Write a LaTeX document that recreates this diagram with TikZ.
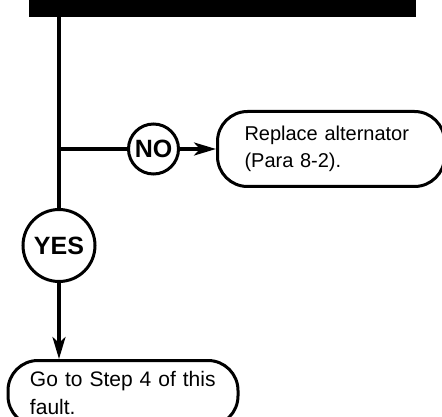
\documentclass[tikz,border=0pt]{standalone}
\usepackage{fontspec}
\setmainfont{Liberation Sans}
\usepackage{tikz}
\usetikzlibrary{arrows.meta, positioning}
\tikzstyle{header} = [rectangle, minimum width=387pt, minimum height=17.3pt, inner sep=0pt, draw=none, fill=black]
\tikzstyle{answer} = [circle, inner sep=0pt, draw=black, line width=3pt, font=\fontsize{25}{30}\selectfont\bfseries]
\tikzstyle{outcome} = [rectangle, rounded corners=30pt, minimum height=75pt, draw=black, line width=3pt, align=left]
\tikzstyle{line} = [line width=3.4pt]
\tikzstyle{arrow} = [line width=3.4pt, -{Stealth[length=22pt, width=13pt, inset=6pt]}]

\begin{document}
\begin{tikzpicture}[x=1pt, y=1pt]
		\useasboundingbox (0,0) rectangle (442,-417);
		\clip (0,0) rectangle (442,-417);

		\node (bar) [header] at (222.5,-8.65) {};
		\coordinate (split) at (59,-149);
		\node (no) [answer, minimum size=50pt, right=68pt of split] {NO};
		\node (yes) [answer, minimum size=72pt, below=59pt of split] {YES};
		\node (replace) [outcome, right=36pt of no, minimum width=227pt, inner xsep=27pt, text width=173pt,
			font=\fontsize{20}{26.6}\selectfont] {Replace alternator\\(Para 8-2).};
		\node (go) [outcome, below=76pt of yes, xshift=64pt, minimum width=230pt, minimum height=0pt,
			inner xsep=22pt, inner ysep=11pt, text width=186pt, font=\fontsize{21}{28}\selectfont] {Go to Step 4 of this\\fault.};

		\draw [line] (bar.south -| split) -- (split) -- (yes);
		\draw [line] (split) -- (no);
		\draw [arrow] (no) -- (replace);
		\draw [arrow] (yes) -- (yes |- go.north);
	\end{tikzpicture}
\end{document}
